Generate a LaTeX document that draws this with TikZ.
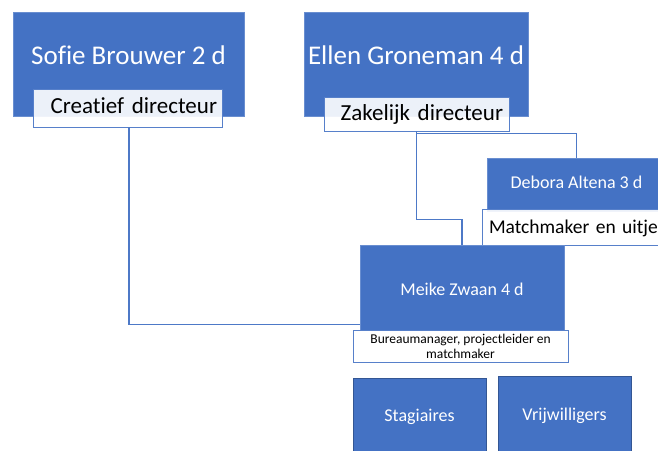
\documentclass[tikz,border=0pt]{standalone}
\usepackage{fontspec}
\setmainfont{Carlito}[Ligatures=NoCommon]
\usepackage{tikz}
\usetikzlibrary{calc,positioning}
\definecolor{officeblue}{HTML}{4472C4}
\tikzstyle{line} = [draw=officeblue!95!white, line width=1.5pt]
\tikzstyle{person} = [draw=officeblue!80!white, line width=0.8pt, fill=officeblue, text=white, inner sep=0pt]
\tikzstyle{team} = [person, draw=officeblue!75!black]
\tikzstyle{role} = [draw=officeblue!90!white, line width=0.9pt, fill=white, fill opacity=0.9, text opacity=1, text=black, inner ysep=0pt]

\begin{document}
\begin{tikzpicture}[x=1pt,y=-1pt]
  			\useasboundingbox (0,0) rectangle (658,450);
  			\clip (0,0) rectangle (658,450);
  			
  			% directie
  			\node[person, minimum width=231pt, minimum height=104pt, font=\fontsize{27}{32}\selectfont, text height=17.4pt, text depth=16pt] (sofie) at (128.5,64) {Sofie Brouwer 2 d};
  			\node[person, minimum width=224pt, minimum height=104pt, font=\fontsize{27}{32}\selectfont, text height=17.4pt, text depth=16pt] (ellen) at (416,64) {Ellen Groneman 4 d};
  			\node[role, minimum width=189pt, minimum height=38pt, text width=179pt, inner xsep=5pt, align=right, font=\fontsize{23}{27}\selectfont, text height=14.8pt, text depth=4.4pt] (crea) at (127.5,108) {Creatief directeur};
  			\node[role, minimum width=185pt, minimum height=34pt, text width=173pt, inner xsep=6pt, align=right, font=\fontsize{23}{27}\selectfont, text height=14.8pt, text depth=2.8pt] (zak) at (416.5,114) {Zakelijk directeur};
  			
  			% bureau
  			\node[person, minimum width=179pt, minimum height=53pt, font=\fontsize{18}{22}\selectfont, text height=11.6pt, text depth=3pt] (debora) at (576.5,184.5) {Debora Altena 3 d};
  			\node[role, minimum width=210pt, minimum height=36pt, text width=196pt, inner xsep=7pt, align=left, font=\fontsize{19.5}{23}\selectfont, text height=12.6pt, text depth=0pt] (match) at (587,227) {Matchmaker en uitjes};
  			\node[person, minimum width=204pt, minimum height=85pt, font=\fontsize{18}{22}\selectfont, text height=16.6pt, text depth=0pt] (meike) at (462,287.5) {Meike Zwaan 4 d};
  			\node[role, minimum width=215pt, minimum height=32pt, align=center, font=\fontsize{13.5}{15}\selectfont] (bureau) at (460.5,346) {Bureaumanager, projectleider en\\matchmaker};
  			
  			% medewerkers
  			\node[team, minimum width=133pt, minimum height=78pt, font=\fontsize{18}{22}\selectfont] (stag) at (419.5,417) {Stagiaires};
  			\node[team, minimum width=133pt, minimum height=80pt, font=\fontsize{18}{22}\selectfont] (vrij) at (564.5,416) {Vrijwilligers};
  			
  			% lijnen
  			\draw[line] ($(crea.south)+(1.5,0)$) |- ($(meike.south west)+(0,-6)$); %Sofie -- Meike
  			\draw[line] (zak.south) -- ++(0,2) -| (debora.north); %Ellen -- Debora
  			\draw[line] (zak.south) -- ++(0,88) -| (meike.north); %Ellen -- Meike
  			\end{tikzpicture}
\end{document}
